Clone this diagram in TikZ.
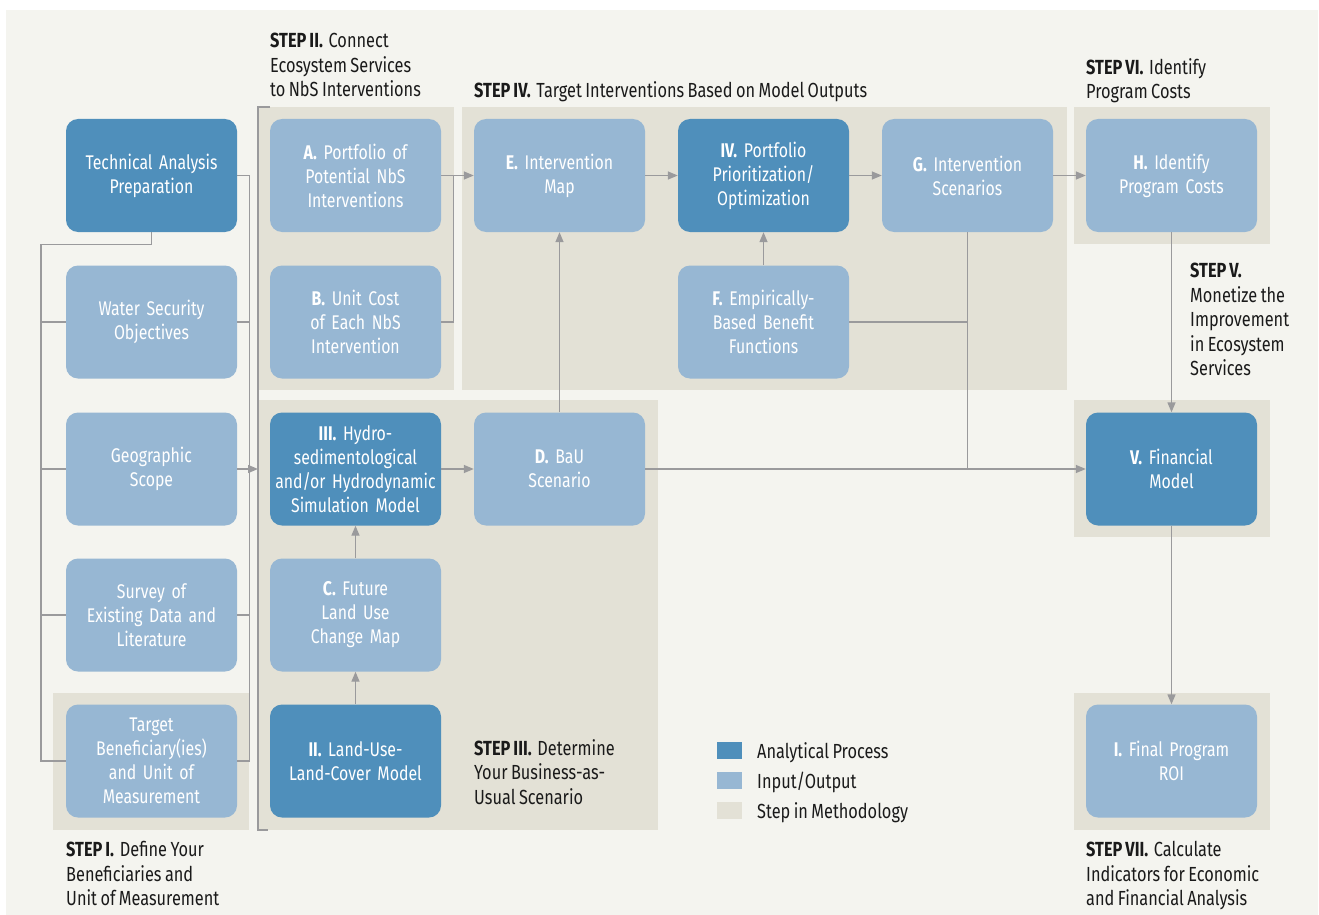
\documentclass[tikz,border=0pt]{standalone}
\usepackage{fontspec}
\setmainfont[FakeStretch=0.8,WordSpace=0.8]{Fira Sans}
\usetikzlibrary{arrows.meta,calc}
\definecolor{dkb}{HTML}{4F8FBB}
\definecolor{ltb}{HTML}{97B7D3}
\definecolor{stepfill}{HTML}{E3E1D6}
\definecolor{panel}{HTML}{F4F4EF}
\definecolor{conn}{HTML}{9A9A9C}
\definecolor{ink}{HTML}{1A1A1A}
\newcommand{\stlab}[1]{\textbf{#1}\hspace{0.28em}}
\begin{document}
\begin{tikzpicture}[x=1pt,y=-1pt,
  box/.style={rounded corners=12pt, minimum width=171pt, minimum height=113pt, text width=168pt, align=center, text=white, font=\fontsize{19.8}{24}\selectfont, inner sep=0pt},
  proc/.style={box, fill=dkb},
  io/.style={box, fill=ltb},
  sbg/.style={fill=stepfill},
  lbl/.style={anchor=north west, align=left, text=ink, font=\fontsize{20.4}{24.5}\selectfont, inner sep=0pt},
  leg/.style={anchor=base west, inner sep=0pt, text=ink, font=\fontsize{20.4}{24}\selectfont},
  ln/.style={draw=conn, line width=1.4pt},
  arr/.style={ln, -{Triangle[length=10pt,width=8pt]}}]
% canvas
\fill[white] (0,0) rectangle (1319,915);
\fill[panel] (6,10) rectangle (1318,915);
\useasboundingbox (0,0) rectangle (1319,915);
% step backgrounds
\fill[sbg] (53,693) rectangle (249,830);
\fill[sbg] (258,107) rectangle (454,390);
\fill[sbg] (258,400) rectangle (658,830);
\fill[sbg] (462,107) rectangle (1067,390);
\fill[sbg] (1074,107) rectangle (1270,244);
\fill[sbg] (1074,400) rectangle (1270,537);
\fill[sbg] (1074,693) rectangle (1270,830);
% boxes
\node[proc] (tap) at (151.5,175.5) {Technical Analysis\\Preparation};
\node[io] (wso) at (151.5,322) {Water Security\\Objectives};
\node[io] (geo) at (151.5,469) {Geographic\\Scope};
\node[io] (sur) at (151.5,615) {Survey of\\Existing Data and\\Literature};
\node[io] (tgt) at (151.5,761) {Target\\Beneficiary(ies)\\and Unit of\\Measurement};
\node[io] (A) at (355.5,175.5) {\textbf{A.} Portfolio of\\Potential NbS\\Interventions};
\node[io] (B) at (355.5,322) {\textbf{B.} Unit Cost\\of Each NbS\\Intervention};
\node[proc] (III) at (355.5,469) {\textbf{III.} Hydro-\\sedimentological\\and/or Hydrodynamic\\Simulation Model};
\node[io] (C) at (355.5,615) {\textbf{C.} Future\\Land Use\\Change Map};
\node[proc] (II) at (355.5,761) {\textbf{II.} Land-Use-\\Land-Cover Model};
\node[io] (E) at (559.5,175.5) {\textbf{E.} Intervention\\Map};
\node[io] (D) at (559.5,469) {\textbf{D.} BaU\\Scenario};
\node[proc] (IV) at (763.5,175.5) {\textbf{IV.} Portfolio\\Prioritization/\\Optimization};
\node[io] (F) at (763.5,322) {\textbf{F.} Empirically-\\Based Benefit\\Functions};
\node[io] (G) at (967.5,175.5) {\textbf{G.} Intervention\\Scenarios};
\node[io] (H) at (1171.5,175.5) {\textbf{H.} Identify\\Program Costs};
\node[proc] (V) at (1171.5,469) {\textbf{V.} Financial\\Model};
\node[io] (I) at (1171.5,761) {\textbf{I.} Final Program\\ROI};
% left bracket
\draw[ln] (tap.south) -- ++(0,12) -| ([xshift=-25pt]tgt.west) -- (tgt.west);
\foreach \n in {wso,geo,sur} \draw[ln] (\n.west) -- ++(-25,0);
\draw[ln] (tap.east) -- ++(12,0) coordinate (rtop) -- ([xshift=12pt]tgt.east) -- (tgt.east);
\foreach \n in {wso,geo,sur} \draw[ln] (\n.east) -- ++(12,0);
\coordinate (brk) at (258,469);
\draw[arr] ([xshift=12pt]geo.east) -- (brk);
\draw[ln] (270,107) -- (258,107) -- (258,830) -- (268,830);
% step II / IV connectors
\draw[arr] (A.east) -- (E.west);
\draw[ln] (B.east) -| ($(A.east)!0.5!(E.west)+(-4,0)$);
\draw[arr] (E.east) -- (IV.west);
\draw[arr] (IV.east) -- (G.west);
\draw[arr] (G.east) -- (H.west);
\draw[arr] (F.north) -- (IV.south);
\draw[arr] (D.north) -- (E.south);
% step III
\draw[arr] (II.north) -- (C.south);
\draw[arr] (C.north) -- (III.south);
\draw[arr] (III.east) -- (D.west);
\draw[arr] (D.east) -- (V.west);
\draw[ln] (G.south) -- (G.south |- D.east);
\draw[ln] (F.east) -- (F.east -| G.south);
% right column
\draw[arr] (H.south) -- (V.north);
\draw[arr] (V.south) -- (I.north);
% labels
\node[lbl] (s2) at (270,33) {\stlab{STEP II.}Connect\\Ecosystem Services\\to NbS Interventions};
\node[lbl] (s4) at (474,81) {\stlab{STEP IV.}Target Interventions Based on Model Outputs};
\node[lbl] (s6) at (1086,58) {\stlab{STEP VI.}Identify\\Program Costs};
\node[lbl] (s5) at (1190,263) {\textbf{STEP V.}\\Monetize the\\Improvement\\in Ecosystem\\Services};
\node[lbl] (s1) at (66,841) {\stlab{STEP I.}Define Your\\Beneficiaries and\\Unit of Measurement};
\node[lbl] (s3) at (474,739) {\stlab{STEP III.}Determine\\Your Business-as-\\Usual Scenario};
\node[lbl] (s7) at (1086,841) {\stlab{STEP VII.}Calculate\\Indicators for Economic\\and Financial Analysis};
% legend
\fill[dkb] (717,742) rectangle (742,759);
\fill[ltb] (717,772) rectangle (742,789);
\fill[stepfill] (717,802) rectangle (742,819);
\node[leg] (l1) at (757,758) {Analytical Process};
\node[leg] (l2) at (757,788) {Input/Output};
\node[leg] (l3) at (757,818) {Step in Methodology};
\end{tikzpicture}
\end{document}
